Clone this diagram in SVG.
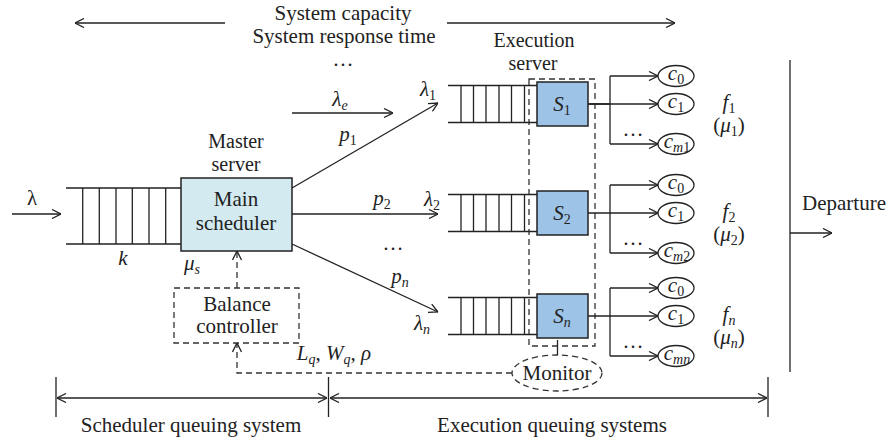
<svg xmlns="http://www.w3.org/2000/svg" width="892" height="443" viewBox="0 0 892 443" font-family="Liberation Serif, Times New Roman, Noto Serif, DejaVu Serif, serif">
<style>
text{font-family:"Liberation Serif","Times New Roman","Noto Serif","DejaVu Serif",serif;font-size:21px;fill:#222}
.i{font-style:italic}
.s{font-size:14px}
.t{font-size:20px}
.ln{stroke:#222;stroke-width:1.3;fill:none}
.d{stroke:#333;stroke-width:1.3;fill:none;stroke-dasharray:6,4}
.sb{fill:#9dc3e6;stroke:#222;stroke-width:1.5}
.el{fill:#fff;stroke:#222;stroke-width:1.3}
</style>
<defs>
<marker id="ah" viewBox="0 0 10 10" refX="10" refY="5" markerWidth="10" markerHeight="10" markerUnits="userSpaceOnUse" orient="auto-start-reverse">
<path d="M1,0.5 L10,5 L1,9.5" fill="none" stroke="#222" stroke-width="1.3"/>
</marker>
</defs>
<rect width="892" height="443" fill="#fff"/>

<g id="header">
<text x="343" y="20" text-anchor="middle">System capacity</text>
<text x="344" y="43" text-anchor="middle">System response time</text>
<text x="343" y="66" text-anchor="middle">…</text>
</g>

<g id="main-queue">
<path class="ln" d="M66,188 H181 M66,244 H181 M82.7,188 V244 M99.3,188 V244 M116,188 V244 M132.3,188 V244 M149,188 V244 M165.7,188 V244"/>
<text x="123" y="265" class="i" text-anchor="middle">k</text>
</g>

<g id="main-scheduler">
<text x="236" y="148" class="t" text-anchor="middle">Master</text>
<text x="236" y="171" class="t" text-anchor="middle">server</text>
<rect x="181" y="178" width="111" height="73" fill="#d3eaf0" stroke="#222" stroke-width="1.5"/>
<text x="236" y="206" text-anchor="middle">Main</text>
<text x="236" y="230" text-anchor="middle">scheduler</text>
<text x="192" y="270" text-anchor="middle"><tspan class="i">μ</tspan><tspan class="s i" dy="4">s</tspan></text>
</g>

<g id="balance-controller">
<rect x="174" y="288" width="125" height="55" class="d"/>
<text x="237" y="311" text-anchor="middle">Balance</text>
<text x="237" y="333" text-anchor="middle">controller</text>
</g>

<g id="execution-server">
<text x="534" y="47" class="t" text-anchor="middle">Execution</text>
<text x="533" y="70" class="t" text-anchor="middle">server</text>
<rect x="529" y="79" width="66" height="267" class="d"/>
</g>

<g id="row1">
<path class="ln" d="M448,85.5 H537 M448,122.5 H537 M461,85.5 V122.5 M473.5,85.5 V122.5 M486,85.5 V122.5 M499,85.5 V122.5 M511.5,85.5 V122.5 M524.5,85.5 V122.5"/>
<rect x="537" y="82" width="51" height="44" class="sb"/>
<text x="562" y="111" text-anchor="middle"><tspan class="i">S</tspan><tspan class="s" dy="4">1</tspan></text>
<ellipse cx="676" cy="76" rx="18" ry="10.5" class="el"/>
<text x="676" y="80" text-anchor="middle"><tspan class="i">c</tspan><tspan class="s" dy="4">0</tspan></text>
<ellipse cx="676" cy="104" rx="18" ry="10.5" class="el"/>
<text x="676" y="108" text-anchor="middle"><tspan class="i">c</tspan><tspan class="s" dy="4">1</tspan></text>
<ellipse cx="676" cy="144" rx="18" ry="10.5" class="el"/>
<text x="677" y="148" text-anchor="middle"><tspan class="i">c</tspan><tspan class="s i" dy="4">m</tspan><tspan class="s">1</tspan></text>
<text x="633" y="136" text-anchor="middle">…</text>
<text x="729" y="109" text-anchor="middle" class="i">f<tspan class="s" font-style="normal" dy="4">1</tspan></text>
<text x="729" y="132" text-anchor="middle">(<tspan class="i">μ</tspan><tspan class="s" dy="4">1</tspan><tspan dy="-4">)</tspan></text>
</g>

<g id="row2">
<path class="ln" d="M448,194.5 H537 M448,231.5 H537 M461,194.5 V231.5 M473.5,194.5 V231.5 M486,194.5 V231.5 M499,194.5 V231.5 M511.5,194.5 V231.5 M524.5,194.5 V231.5"/>
<rect x="537" y="191" width="51" height="44" class="sb"/>
<text x="562" y="220" text-anchor="middle"><tspan class="i">S</tspan><tspan class="s" dy="4">2</tspan></text>
<ellipse cx="676" cy="185" rx="18" ry="10.5" class="el"/>
<text x="676" y="189" text-anchor="middle"><tspan class="i">c</tspan><tspan class="s" dy="4">0</tspan></text>
<ellipse cx="676" cy="213" rx="18" ry="10.5" class="el"/>
<text x="676" y="217" text-anchor="middle"><tspan class="i">c</tspan><tspan class="s" dy="4">1</tspan></text>
<ellipse cx="676" cy="253" rx="18" ry="10.5" class="el"/>
<text x="677" y="257" text-anchor="middle"><tspan class="i">c</tspan><tspan class="s i" dy="4">m</tspan><tspan class="s">2</tspan></text>
<text x="633" y="245" text-anchor="middle">…</text>
<text x="729" y="218" text-anchor="middle" class="i">f<tspan class="s" font-style="normal" dy="4">2</tspan></text>
<text x="729" y="241" text-anchor="middle">(<tspan class="i">μ</tspan><tspan class="s" dy="4">2</tspan><tspan dy="-4">)</tspan></text>
</g>

<g id="row3">
<path class="ln" d="M448,297.5 H537 M448,334.5 H537 M461,297.5 V334.5 M473.5,297.5 V334.5 M486,297.5 V334.5 M499,297.5 V334.5 M511.5,297.5 V334.5 M524.5,297.5 V334.5"/>
<rect x="537" y="294" width="51" height="44" class="sb"/>
<text x="562" y="323" text-anchor="middle"><tspan class="i">S</tspan><tspan class="s i" dy="4">n</tspan></text>
<ellipse cx="676" cy="288" rx="18" ry="10.5" class="el"/>
<text x="676" y="292" text-anchor="middle"><tspan class="i">c</tspan><tspan class="s" dy="4">0</tspan></text>
<ellipse cx="676" cy="316" rx="18" ry="10.5" class="el"/>
<text x="676" y="320" text-anchor="middle"><tspan class="i">c</tspan><tspan class="s" dy="4">1</tspan></text>
<ellipse cx="676" cy="356" rx="18" ry="10.5" class="el"/>
<text x="677" y="360" text-anchor="middle"><tspan class="i">c</tspan><tspan class="s i" dy="4">mn</tspan></text>
<text x="633" y="348" text-anchor="middle">…</text>
<text x="729" y="321" text-anchor="middle" class="i">f<tspan class="s" dy="4">n</tspan></text>
<text x="729" y="344" text-anchor="middle">(<tspan class="i">μ</tspan><tspan class="s i" dy="4">n</tspan><tspan dy="-4">)</tspan></text>
</g>

<g id="monitor">
<ellipse cx="557" cy="373" rx="45" ry="18" class="d"/>
<text x="557" y="380" text-anchor="middle">Monitor</text>
</g>

<g id="departure">
<text x="802" y="210">Departure</text>
</g>

<g id="connectors">
<line x1="75" y1="23" x2="225" y2="23" class="ln" marker-start="url(#ah)"/>
<line x1="447" y1="23" x2="675" y2="23" class="ln" marker-end="url(#ah)"/>
<line x1="12" y1="214" x2="61" y2="214" class="ln" marker-end="url(#ah)"/>
<line x1="292" y1="113" x2="393" y2="113" class="ln" marker-end="url(#ah)"/>
<line x1="292" y1="188" x2="438" y2="103" class="ln" marker-end="url(#ah)"/>
<line x1="292" y1="214" x2="438" y2="214" class="ln" marker-end="url(#ah)"/>
<line x1="292" y1="244" x2="438" y2="312" class="ln" marker-end="url(#ah)"/>
<line x1="237" y1="288" x2="237" y2="251" class="d" marker-end="url(#ah)"/>
<path d="M512,373 H237 V343" class="d" marker-end="url(#ah)"/>
<line x1="557.5" y1="340" x2="557.5" y2="355" class="ln"/>
<path class="ln" d="M588,104 H610 M610,76 V144"/>
<line x1="610" y1="76" x2="658" y2="76" class="ln" marker-end="url(#ah)"/>
<line x1="588" y1="104" x2="658" y2="104" class="ln" marker-end="url(#ah)"/>
<line x1="610" y1="144" x2="658" y2="144" class="ln" marker-end="url(#ah)"/>
<path class="ln" d="M610,185 V253"/>
<line x1="610" y1="185" x2="658" y2="185" class="ln" marker-end="url(#ah)"/>
<line x1="588" y1="213" x2="658" y2="213" class="ln" marker-end="url(#ah)"/>
<line x1="610" y1="253" x2="658" y2="253" class="ln" marker-end="url(#ah)"/>
<path class="ln" d="M610,288 V356"/>
<line x1="610" y1="288" x2="658" y2="288" class="ln" marker-end="url(#ah)"/>
<line x1="588" y1="316" x2="658" y2="316" class="ln" marker-end="url(#ah)"/>
<line x1="610" y1="356" x2="658" y2="356" class="ln" marker-end="url(#ah)"/>
<line x1="790" y1="60" x2="790" y2="372" class="ln"/>
<line x1="790" y1="233" x2="832" y2="233" class="ln" marker-end="url(#ah)"/>
<path class="ln" d="M56,377 V417 M328.5,377 V417 M768,377 V417"/>
<line x1="57" y1="398" x2="327" y2="398" class="ln" marker-start="url(#ah)" marker-end="url(#ah)"/>
<line x1="330" y1="398" x2="767" y2="398" class="ln" marker-start="url(#ah)" marker-end="url(#ah)"/>
</g>

<g id="labels">
<text x="32" y="205" text-anchor="middle">λ</text>
<text x="340" y="106" text-anchor="middle"><tspan class="i">λ</tspan><tspan class="s i" dy="4">e</tspan></text>
<text x="348" y="141" text-anchor="middle"><tspan class="i">p</tspan><tspan class="s" dy="4">1</tspan></text>
<text x="382" y="205" text-anchor="middle"><tspan class="i">p</tspan><tspan class="s" dy="4">2</tspan></text>
<text x="393" y="250" text-anchor="middle">…</text>
<text x="400" y="283" text-anchor="middle"><tspan class="i">p</tspan><tspan class="s i" dy="4">n</tspan></text>
<text x="428" y="96" text-anchor="middle"><tspan class="i">λ</tspan><tspan class="s" dy="4">1</tspan></text>
<text x="432" y="206" text-anchor="middle"><tspan class="i">λ</tspan><tspan class="s" dy="4">2</tspan></text>
<text x="422" y="330" text-anchor="middle"><tspan class="i">λ</tspan><tspan class="s i" dy="4">n</tspan></text>
<text x="334" y="360" text-anchor="middle"><tspan class="i">L</tspan><tspan class="s i" dy="4">q</tspan><tspan dy="-4">, </tspan><tspan class="i">W</tspan><tspan class="s i" dy="4">q</tspan><tspan dy="-4">, </tspan><tspan class="i">ρ</tspan></text>
<text x="191" y="432" text-anchor="middle">Scheduler queuing system</text>
<text x="552" y="432" text-anchor="middle">Execution queuing systems</text>
</g>
</svg>
